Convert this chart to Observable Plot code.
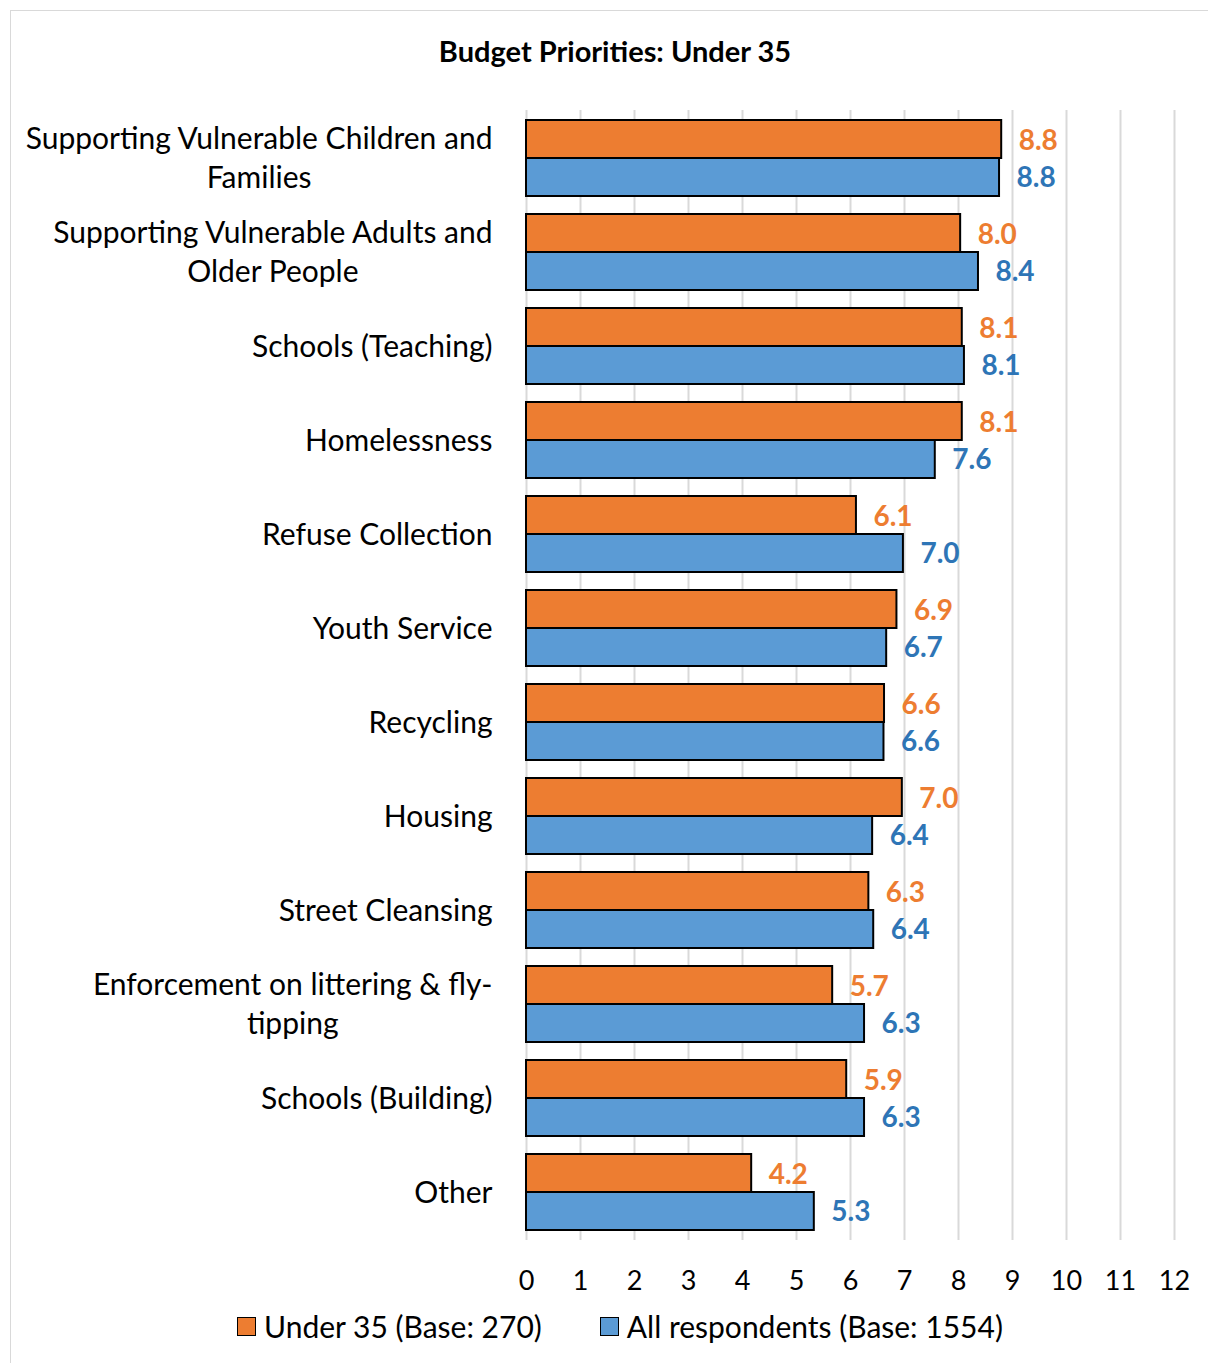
<!DOCTYPE html>
<html>
<head>
<meta charset="utf-8">
<script src="https://cdn.jsdelivr.net/npm/d3@7"></script>
<script src="https://cdn.jsdelivr.net/npm/@observablehq/plot@0.6"></script>
<style>
  html, body { margin: 0; padding: 0; background: #fff; }
  body { width: 1208px; height: 1363px; position: relative; overflow: hidden; font-family: Lato, "Noto Sans", sans-serif; }
  #frame { position: absolute; left: 10px; top: 10px; width: 1220px; height: 1380px; border: 1.5px solid #d9d9d9; box-sizing: border-box; }
  #title { position: absolute; left: 0; width: 1230px; top: 33px; text-align: center; font-weight: bold; font-size: 29px; color: #000; }
  #chart { position: absolute; left: 0; top: 0; }
  #legend { position: absolute; top: 1308px; left: 0; width: 1240px; display: flex; justify-content: center; gap: 58px; font-size: 30px; color: #000; }
  .item { display: flex; align-items: center; gap: 8px; }
  .sw { width: 17px; height: 17px; border: 1.5px solid #000; }
</style>
</head>
<body>
<div id="frame"></div>
<div id="title"></div>
<div id="chart"></div>
<div id="legend"></div>
<script>
const titleText = "Budget Priorities: Under 35";
const categories = [
  "Supporting Vulnerable Children and\nFamilies",
  "Supporting Vulnerable Adults and\nOlder People",
  "Schools (Teaching)",
  "Homelessness",
  "Refuse Collection",
  "Youth Service",
  "Recycling",
  "Housing",
  "Street Cleansing",
  "Enforcement on littering & fly-\ntipping",
  "Schools (Building)",
  "Other"
];
const seriesNames = ["Under 35 (Base: 270)", "All respondents (Base: 1554)"];
const under35 = [8.80, 8.04, 8.07, 8.07, 6.11, 6.86, 6.63, 6.96, 6.34, 5.67, 5.93, 4.17];
const allResp = [8.76, 8.37, 8.11, 7.57, 6.98, 6.67, 6.62, 6.41, 6.43, 6.26, 6.26, 5.33];
const xTicks = [0,1,2,3,4,5,6,7,8,9,10,11,12];
const barColors = ["#ED7D31", "#5B9BD5"];
const labelColors = ["#ED7D31", "#2E75B6"];

document.getElementById("title").textContent = titleText;

const rows = categories.flatMap((c, i) => [
  {cat: c, series: seriesNames[0], value: under35[i], s: 0},
  {cat: c, series: seriesNames[1], value: allResp[i], s: 1}
]);
const o = rows.filter(d => d.s === 0);
const b = rows.filter(d => d.s === 1);
const half = 38;

const chart = Plot.plot({
  width: 1208,
  height: 1363,
  marginLeft: 526,
  marginRight: 34,
  marginTop: 110,
  marginBottom: 123,
  style: {fontFamily: "Lato, 'Noto Sans', sans-serif", background: "transparent"},
  x: {domain: [0, 12], ticks: xTicks, axis: null},
  y: {domain: categories, paddingInner: 0.19, paddingOuter: 0.095, axis: null},
  marks: [
    Plot.ruleX(xTicks, {stroke: "#d9d9d9", strokeWidth: 2}),
    Plot.barX(o, {y: "cat", x: "value", fill: barColors[0], stroke: "#000", strokeWidth: 2, insetBottom: half}),
    Plot.barX(b, {y: "cat", x: "value", fill: barColors[1], stroke: "#000", strokeWidth: 2, insetTop: half}),
    Plot.text(o, {y: "cat", x: "value", text: d => d.value.toFixed(1), dx: 17, dy: -17, textAnchor: "start", fill: labelColors[0], fontWeight: "bold", fontSize: 28}),
    Plot.text(b, {y: "cat", x: "value", text: d => d.value.toFixed(1), dx: 17, dy: 20, textAnchor: "start", fill: labelColors[1], fontWeight: "bold", fontSize: 28}),
    Plot.axisX({ticks: xTicks, tickSize: 0, tickPadding: 0, dy: 30, fontSize: 27, color: "#000", label: null}),
    Plot.text(categories, {y: d => d, frameAnchor: "left", dx: -34, dy: -2, textAnchor: "end", lineHeight: 1.3, fontSize: 30, fill: "#000", className: "ylab"})
  ]
});
document.getElementById("chart").appendChild(chart);

// center multi-line category labels within their own width (right-aligned block)
chart.querySelectorAll(".ylab text").forEach(t => {
  if (t.querySelectorAll("tspan").length > 1) {
    const w = t.getBBox().width;
    t.setAttribute("text-anchor", "middle");
    const tr = t.getAttribute("transform") || "";
    t.setAttribute("transform", tr + ` translate(${-w / 2},0)`);
  }
});

const leg = document.getElementById("legend");
seriesNames.forEach((n, i) => {
  const it = document.createElement("div");
  it.className = "item";
  const sw = document.createElement("div");
  sw.className = "sw";
  sw.style.background = barColors[i];
  const tx = document.createElement("span");
  tx.textContent = n;
  it.appendChild(sw); it.appendChild(tx);
  leg.appendChild(it);
});
</script>
</body>
</html>
